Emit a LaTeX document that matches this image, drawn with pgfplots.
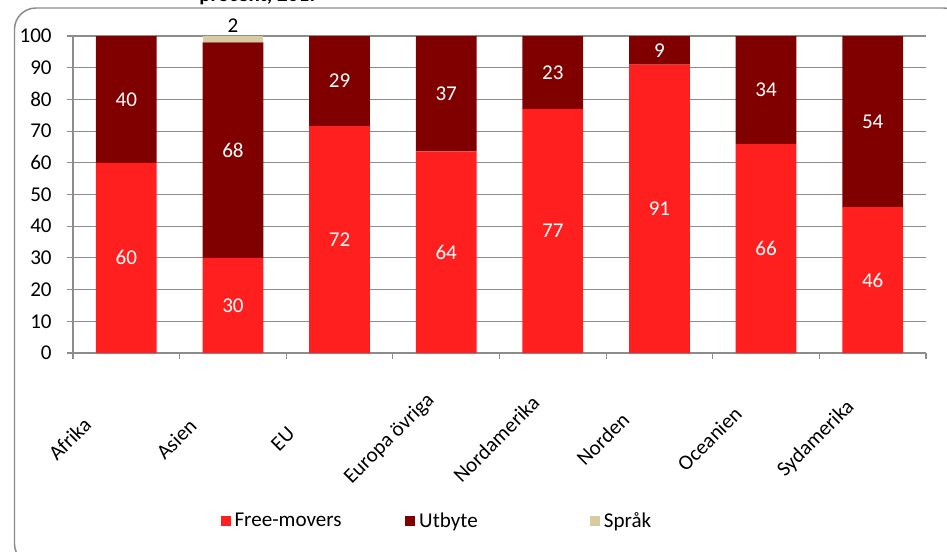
\documentclass[border=0pt]{standalone}
\usepackage{fontspec}
\setmainfont{Carlito}
\usepackage{pgfplots}
\usepackage{pgfplotstable}
\pgfplotsset{compat=1.18}
\definecolor{cFree}{HTML}{FF1F1F}
\definecolor{cUtb}{HTML}{800000}
\definecolor{cSpr}{HTML}{D8CBA0}
\definecolor{cGrid}{HTML}{8C8C8C}
\definecolor{cFrame}{HTML}{8A8A8A}
\pgfplotstableread{
x free utbyte sprak
0 60 40 0
1 30 68 2
2 71.6 28.4 0
3 63.6 36.4 0
4 77 23 0
5 91 9 0
6 66 34 0
7 46 54 0
}\bars
\pgfplotstableread{
x y lab
0 30 60
0 80 40
1 15 30
1 64 68
2 35.8 72
2 85.8 29
3 31.8 64
3 81.8 37
4 38.5 77
4 88.5 23
5 45.5 91
5 95.5 9
6 33 66
6 83 34
7 23 46
7 73 54
}\labW
\pgfplotstableread{
x y lab
1 103.4 2
}\labB
\newcommand{\fs}{\fontsize{15.8}{18}\selectfont}
\begin{document}
\begin{tikzpicture}
\path[use as bounding box, clip] (0,0) rectangle (710.25pt,-413.25pt);
\begin{scope}[x=0.75pt,y=-0.75pt]
\draw[cFrame, line width=1.1pt, rounded corners=16pt] (14.5,8) rectangle (965,565);
\node[anchor=base west, font=\bfseries\fs, inner sep=0pt] at (199,1.5) {procent, 2017};
\end{scope}
\begin{axis}[
  at={(54.75pt,-264.75pt)}, anchor=south west,
  scale only axis, width=639.75pt, height=237.75pt,
  ybar stacked, bar width=45.5pt,
  xmin=-0.5, xmax=7.5, ymin=0, ymax=100,
  ytick={0,10,...,100},
  ymajorgrids, grid style={cGrid, line width=0.8pt},
  axis x line*=bottom, axis y line*=left,
  axis line style={cGrid, line width=0.8pt},
  tick style={cGrid, line width=0.8pt},
  tick align=outside, major tick length=4.5pt,
  xtick={-0.5,0.5,...,7.5},
  xticklabels={Afrika,Asien,EU,Europa övriga,Nordamerika,Norden,Oceanien,Sydamerika,{}},
  x tick label style={xshift=-2.5pt, yshift=-60pt, rotate=45, anchor=center},
  yticklabel style={xshift=-8pt},
  ticklabel style={font=\fs},
  /pgf/number format/assume math mode=true,
  legend columns=3,
  legend style={draw=none, fill=none, at={(0.427,-0.53)}, anchor=center, font=\fs,
    /tikz/every odd column/.append style={column sep=1pt}},
  legend image code/.code={\fill[#1] (0pt,-3.75pt) rectangle (7.5pt,3.75pt);},
]
\addplot[fill=cFree, draw=none] table[x=x, y=free] {\bars};
\addlegendentry{\makebox[126pt][l]{Free-movers}}
\addplot[fill=cUtb, draw=none] table[x=x, y=utbyte] {\bars};
\addlegendentry{\makebox[126pt][l]{Utbyte}}
\addplot[fill=cSpr, draw=none] table[x=x, y=sprak] {\bars};
\addlegendentry{Språk}
\end{axis}
\begin{axis}[
  at={(54.75pt,-264.75pt)}, anchor=south west,
  scale only axis, width=639.75pt, height=237.75pt,
  xmin=-0.5, xmax=7.5, ymin=0, ymax=100,
  hide axis, clip=false,
]
\addplot[only marks, mark=*, mark size=0pt, mark options={draw=none, fill=none},
  nodes near coords, point meta=explicit symbolic,
  nodes near coords style={anchor=center, text=white, font=\fs}]
  table[x=x, y=y, meta=lab] {\labW};
\addplot[only marks, mark=*, mark size=0pt, mark options={draw=none, fill=none},
  nodes near coords, point meta=explicit symbolic,
  nodes near coords style={anchor=center, text=black, font=\fs}]
  table[x=x, y=y, meta=lab] {\labB};
\end{axis}
\end{tikzpicture}
\end{document}
